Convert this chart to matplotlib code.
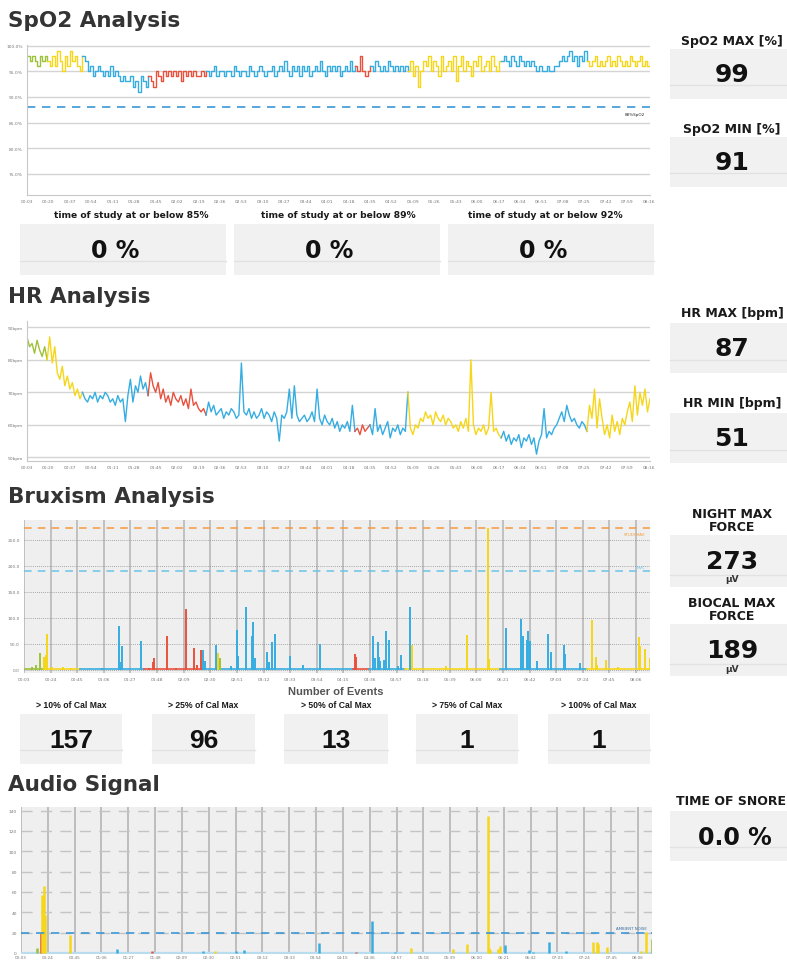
import numpy as np
import matplotlib
matplotlib.use("Agg")
import matplotlib.pyplot as plt
from matplotlib.patches import Rectangle
from matplotlib.lines import Line2D
from matplotlib.ticker import FuncFormatter
from matplotlib import font_manager

# ---------------------------------------------------------------- data
SAMPLE_MIN = 2          # minutes between SpO2 / HR samples
START_CLOCK = 3         # recording starts at 00:03

# sleep stage hypnogram: segment edges (minutes) and stage per segment
stage_edges = [0, 16, 44, 95, 141, 260, 272, 301, 376, 444, 494]
stage_codes = ["W", "L", "D", "R", "D", "R", "D", "L", "D", "L"]

spo2 = [
    98, 97, 98, 97, 96, 98, 97, 98, 97, 96,
    98, 96, 99, 97, 95, 98, 96, 99, 97, 98,
    96, 95, 98, 97, 95, 96, 94, 95, 96, 95,
    94, 95, 94, 96, 94, 95, 94, 93, 94, 93,
    93, 94, 92, 93, 91, 94, 93, 92, 94, 93,
    92, 95, 94, 93, 95, 94, 95, 94, 95, 94,
    95, 93, 95, 94, 95, 94, 95, 94, 94, 95,
    94, 95, 94, 95, 96, 94, 95, 95, 94, 95,
    95, 94, 96, 95, 94, 95, 95, 94, 96, 95,
    94, 95, 96, 95, 94, 95, 95, 96, 94, 95,
    96, 95, 97, 95, 94, 96, 95, 96, 94, 96,
    95, 96, 94, 95, 96, 95, 97, 95, 94, 96,
    95, 96, 95, 96, 94, 95, 96, 95, 97, 95,
    96, 95, 98, 95, 94, 95, 96, 95, 97, 96,
    95, 96, 95, 97, 96, 95, 96, 95, 96, 95,
    96, 95, 97, 94, 96, 92, 95, 97, 96, 98,
    95, 97, 96, 94, 98, 95, 96, 97, 95, 98,
    93, 96, 98, 95, 97, 96, 94, 97, 96, 98,
    95, 96, 97, 95, 98, 96, 95, 97, 97, 98,
    97, 96, 98, 97, 96, 98, 97, 96, 97, 96,
    97, 96, 95, 96, 95, 95, 96, 95, 95, 96,
    96, 97, 98, 97, 98, 99, 97, 98, 96, 98,
    97, 99, 97, 96, 97, 98, 96, 97, 96, 97,
    98, 96, 97, 96, 98, 97, 96, 97, 96, 98,
    97, 96, 97, 98, 96, 97, 96, 97,
]

heart_rate = [
    87, 84, 85, 82, 86, 83, 81, 84, 80, 87,
    79, 84, 76, 74, 78, 72, 75, 71, 73, 69,
    71, 68, 70, 68, 67, 69, 68, 70, 67, 69,
    68, 70, 69, 67, 68, 66, 69, 67, 68, 61,
    69, 74, 67, 72, 70, 75, 71, 73, 69, 76,
    72, 70, 73, 68, 71, 67, 69, 66, 70, 68,
    67, 69, 66, 68, 65, 71, 66, 67, 65, 64,
    65, 63, 67, 64, 66, 63, 64, 65, 62, 64,
    63, 65, 64, 62, 63, 79, 64, 63, 65, 62,
    64, 62, 63, 65, 62, 64, 63, 61, 64, 62,
    55, 63, 62, 64, 71, 62, 72, 63, 61, 62,
    63, 61, 62, 64, 61, 71, 62, 60, 63, 61,
    60, 62, 59, 61, 58, 60, 59, 61, 58, 66,
    58, 59, 57, 60, 58, 59, 60, 57, 65, 58,
    60, 57, 59, 61, 56, 59, 58, 60, 57, 59,
    58, 70, 59, 57, 60, 59, 62, 61, 64, 62,
    63, 60, 64, 62, 61, 63, 60, 62, 61, 59,
    60, 58, 61, 59, 62, 58, 80, 60, 57, 59,
    58, 60, 57, 59, 70, 58, 59, 57, 56, 58,
    55, 57, 54, 56, 55, 57, 53, 56, 55, 57,
    54, 56, 51, 55, 57, 65, 56, 58, 57, 59,
    60, 62, 64, 61, 66, 63, 61, 62, 60, 59,
    61, 60, 58, 66, 62, 71, 59, 68, 62, 57,
    60, 56, 63, 58, 61, 57, 62, 60, 64, 67,
    61, 72, 63, 70, 66, 71, 64, 68,
]

brux_t = [6, 9.5, 13, 16, 17, 18.5, 22, 31, 37, 61.5,
          75, 75.6, 77.3, 92.3, 98.3, 101.5, 102.8, 112.9, 120, 128.1,
          134.5, 136.6, 140, 141.5, 142.5, 151.9, 153, 155, 163.7, 167.7,
          168.7, 175.3, 179.6, 180.6, 182.2, 192, 193.3, 195.9, 197.8, 209.6,
          220.4, 233.6, 261.5, 262.2, 275.8, 276.9, 279, 279.8, 281, 284.2,
          285.8, 288.2, 294.8, 297.4, 304.5, 305.8, 333, 349.6, 366.5, 367.2,
          380, 392.4, 393.7, 397.1, 398.1, 399, 404.8, 413.5, 416, 426,
          427, 439, 448.5, 451.6, 452.5, 459.6, 469, 485.5, 486.3, 490,
          494]
brux_uv = [5, 10, 32, 25, 28, 68, 5, 5, 3, 4,
           84, 14, 45, 55, 3, 15, 23, 64, 3, 117,
           42, 10, 37, 37, 16, 48, 32, 22, 8, 77,
           27, 120, 65, 91, 22, 35, 15, 53, 68, 27,
           10, 50, 31, 25, 64, 22, 53, 25, 17, 19,
           74, 58, 8, 28, 120, 48, 8, 66, 273, 20,
           80, 97, 65, 57, 75, 55, 16, 68, 35, 47,
           30, 12, 95, 25, 10, 18, 5, 63, 45, 40,
           22]
brux_stage = ("WWW" + "LLLLLL" + "DDDDD" + "RRRRRRRRR" + "DDD" + "LW"
              + "DDDDDDDDDDDDDD" + "RR" + "DDDDDDDDDDD" + "LLLLL"
              + "DDDDDDDDDDDD" + "LLLLLLLLL")

audio_t = [12.8, 15.4, 16.2, 18, 18.8, 38.4, 75, 102.5, 142.5, 152,
           168, 174.4, 233, 262, 275, 293, 305, 337.9, 349, 365.8,
           366.6, 367.5, 373.7, 375, 379, 398, 401, 413, 426.7, 448,
           451, 452, 459, 485, 489.5, 494]
audio_db = [5, 20, 57, 66, 37, 18, 4, 2, 2, 2,
            2, 3, 10, 1, 31, 1, 5, 4, 9, 135,
            5, 3, 4, 7, 8, 3, 1, 11, 2, 11,
            11, 9, 6, 2, 21, 14]
audio_stage = "WRLLLL" + "DRDLDDDRDD" + "LLLLLLLL" + "DDDDD" + "LLLLLL" + "W"

SPO2_LIMIT = 88
NIGHT_MAX = 273
BIOCAL_MAX = 189
AMBIENT_NOISE = 20

spo2_stats = [("SpO2 MAX [%]", "99"), ("SpO2 MIN [%]", "91")]
hr_stats = [("HR MAX [bpm]", "87"), ("HR MIN [bpm]", "51")]
below_labels = ["time of study at or below 85%", "time of study at or below 89%",
                "time of study at or below 92%"]
below_values = ["0 %", "0 %", "0 %"]
event_labels = ["> 10% of Cal Max", "> 25% of Cal Max", "> 50% of Cal Max",
                "> 75% of Cal Max", "> 100% of Cal Max"]
event_counts = ["157", "96", "13", "1", "1"]
snore_time = "0.0 %"

STAGE_COLORS = {"W": "#9dc13b", "L": "#f6d619", "D": "#36ade1", "R": "#e8513c"}

# ---------------------------------------------------------------- fonts
_names = {f.name for f in font_manager.fontManager.ttflist}
NARROW = "Liberation Sans Narrow" if "Liberation Sans Narrow" in _names else "Liberation Sans"
BOLD = "DejaVu Sans"

# ---------------------------------------------------------------- layout
W, H = 787, 962
fig = plt.figure(figsize=(W / 100, H / 100), dpi=100)
fig.patch.set_facecolor("white")


def ax_px(x0, y0, x1, y1):
    return fig.add_axes([x0 / W, 1 - y1 / H, (x1 - x0) / W, (y1 - y0) / H])


def txt(x, y, s, **kw):
    kw.setdefault("ha", "center")
    kw.setdefault("va", "center")
    fig.text(x / W, 1 - y / H, s, **kw)


def panel(x0, y0, x1, y1, line_y):
    fig.patches.append(Rectangle((x0 / W, 1 - y1 / H), (x1 - x0) / W, (y1 - y0) / H,
                                 transform=fig.transFigure, facecolor="#f1f1f1",
                                 edgecolor="none", zorder=0))
    fig.lines.append(Line2D([x0 / W, x1 / W], [1 - line_y / H, 1 - line_y / H],
                            transform=fig.transFigure, color="#e2e2e2", lw=1))


def title(y, s):
    txt(8, y, s, ha="left", family=BOLD, fontweight="bold", fontsize=15.5, color="#343434")


def clock(t, _pos):
    m = int(round(t)) + START_CLOCK
    return f"{m // 60:02d}:{m % 60:02d}"


def style_time_axis(ax, step):
    ax.set_xlim(0, 494)
    ax.set_xticks(np.arange(0, 494, step))
    ax.xaxis.set_major_formatter(FuncFormatter(clock))
    ax.tick_params(length=0, labelsize=3.2, colors="#777777", pad=3)


def stage_series(ax, t, y, **kw):
    t = np.asarray(t, float)
    y = np.asarray(y, float)
    for a, b, code in zip(stage_edges[:-1], stage_edges[1:], stage_codes):
        i0 = np.searchsorted(t, a)
        i1 = min(np.searchsorted(t, b), len(t) - 1)
        ax.plot(t[i0:i1 + 1], y[i0:i1 + 1], color=STAGE_COLORS[code], **kw)


# ---------------------------------------------------------------- SpO2
title(21, "SpO2 Analysis")
t_spo2 = np.arange(len(spo2)) * SAMPLE_MIN
ax1 = ax_px(27, 46, 650, 196)
ax1.set_ylim(70.9, 100.1)
ax1.set_yticks([75, 80, 85, 90, 95, 100])
ax1.set_yticklabels([f"{v:.1f}%" for v in [75, 80, 85, 90, 95, 100]])
ax1.grid(axis="y", color="#d4d4d4", lw=1)
ax1.set_axisbelow(True)
for s in ["top", "right"]:
    ax1.spines[s].set_visible(False)
for s in ["left", "bottom"]:
    ax1.spines[s].set_color("#c8c8c8")
stage_series(ax1, t_spo2, spo2, lw=1.0, drawstyle="steps-post")
ax1.axhline(SPO2_LIMIT, color="#3b98d6", lw=1.2, dashes=(5, 4))
ax1.text(490, SPO2_LIMIT - 1.3, f"{SPO2_LIMIT}%SpO2", fontsize=3, ha="right", va="center",
         color="#222222")
style_time_axis(ax1, 17)

for i, (lab, val) in enumerate(spo2_stats):
    y0 = [50, 138][i]
    txt(732, y0 - 9, lab, family=BOLD, fontweight="bold", fontsize=9, color="#1a1a1a")
    panel(670, y0, 787, y0 + 50, y0 + 36)
    txt(732, y0 + 25, val, family=BOLD, fontweight="bold", fontsize=18, color="#111111")

box_x = [(20, 226), (234, 440), (448, 654)]
label_cx = [131, 338, 545]
for (x0, x1), cx, lab, val in zip(box_x, label_cx, below_labels, below_values):
    txt(cx, 215, lab, family=BOLD, fontweight="bold", fontsize=6.6, color="#1a1a1a")
    panel(x0, 225, x1, 276, 262)
    txt((x0 + x1) / 2 - 8, 251, val, family=BOLD, fontweight="bold", fontsize=17,
        color="#111111")

# ---------------------------------------------------------------- HR
title(297, "HR Analysis")
t_hr = np.arange(len(heart_rate)) * SAMPLE_MIN
ax2 = ax_px(27, 322, 650, 462)
ax2.set_ylim(48.9, 91.9)
ax2.set_yticks([50, 60, 70, 80, 90])
ax2.set_yticklabels([f"{v}bpm" for v in [50, 60, 70, 80, 90]])
ax2.grid(axis="y", color="#d4d4d4", lw=1)
ax2.set_axisbelow(True)
for s in ["top", "right"]:
    ax2.spines[s].set_visible(False)
for s in ["left", "bottom"]:
    ax2.spines[s].set_color("#c8c8c8")
stage_series(ax2, t_hr, heart_rate, lw=1.0)
style_time_axis(ax2, 17)

for i, (lab, val) in enumerate(hr_stats):
    y0 = [324, 414][i]
    txt(732, y0 - 10, lab, family=BOLD, fontweight="bold", fontsize=9, color="#1a1a1a")
    panel(670, y0, 787, y0 + 50, y0 + 37)
    txt(732, y0 + 25, val, family=BOLD, fontweight="bold", fontsize=18, color="#111111")

# ---------------------------------------------------------------- Bruxism
title(497, "Bruxism Analysis")
ax3 = ax_px(24, 521, 650, 674)
ax3.set_facecolor("#efefef")
ax3.set_ylim(-6.3, 288)
ax3.set_yticks([0, 50, 100, 150, 200, 250])
ax3.set_yticklabels([f"{v:.1f}" for v in [0, 50, 100, 150, 200, 250]])
for s in ax3.spines.values():
    s.set_visible(False)
style_time_axis(ax3, 21)
ax3.grid(axis="x", color="#b4b4b4", lw=1.1)
ax3.grid(axis="y", color="#8c8c8c", lw=0.6, ls=(0, (1, 1.5)))
ax3.set_axisbelow(True)
stage_series(ax3, np.array(stage_edges, float), np.full(len(stage_edges), 1.5), lw=1.2,
             drawstyle="steps-post")
ax3.vlines(brux_t, 0, brux_uv, colors=[STAGE_COLORS[c] for c in brux_stage], lw=1.4)
ax3.axhline(NIGHT_MAX, color="#f39b3f", lw=1.1, dashes=(5, 4))
ax3.axhline(BIOCAL_MAX, color="#6cc3e8", lw=1.1, dashes=(5, 4))
ax3.text(490, NIGHT_MAX - 11, "STUDYMAX", fontsize=2.8, ha="right", va="center",
         color="#f39b3f")
ax3.text(490, BIOCAL_MAX + 8, "MVC", fontsize=2.8, ha="right", va="center", color="#6cc3e8")

for i, lab in enumerate(["NIGHT MAX\nFORCE", "BIOCAL MAX\nFORCE"]):
    y0 = [536, 625][i]
    val = [NIGHT_MAX, BIOCAL_MAX][i]
    txt(732, y0 - 15, lab, family=BOLD, fontweight="bold", fontsize=9, color="#1a1a1a",
        linespacing=0.95)
    panel(670, y0, 787, y0 + 52, y0 + 40)
    txt(732, y0 + 26, str(val), family=BOLD, fontweight="bold", fontsize=18, color="#111111")
    txt(732, y0 + 44, "\u03bcV", family=BOLD, fontweight="bold", fontsize=6.5, color="#333333")

txt(336, 692, "Number of Events", family="Liberation Sans", fontweight="bold", fontsize=8,
    color="#555555")
event_boxes = [(20, 122), (152, 255), (284, 388), (416, 518), (548, 650)]
for (x0, x1), lab, val in zip(event_boxes, event_labels, event_counts):
    cx = (x0 + x1) / 2
    txt(cx, 706, lab, family=NARROW, fontweight="bold", fontsize=6.2, color="#1a1a1a")
    panel(x0, 715, x1, 765, 751)
    txt(cx, 741, val, family=NARROW, fontweight="bold", fontsize=19, color="#111111")

# ---------------------------------------------------------------- Audio
title(785, "Audio Signal")
ax4 = ax_px(21, 808, 652, 955)
ax4.set_facecolor("#efefef")
ax4.set_ylim(-1, 143.5)
ax4.set_yticks(np.arange(0, 141, 20))
for s in ax4.spines.values():
    s.set_visible(False)
style_time_axis(ax4, 21)
ax4.tick_params(axis="x", pad=1, labelsize=3.0)
ax4.grid(axis="x", color="#bdbdbd", lw=1.4)
ax4.grid(axis="y", color="#c4c4c4", lw=1, dashes=(8, 6))
ax4.set_axisbelow(True)
ax4.axhline(0, color="#b9dcee", lw=1.6)
ax4.vlines(audio_t, 0, audio_db, colors=[STAGE_COLORS[c] for c in audio_stage], lw=1.8)
ax4.axhline(AMBIENT_NOISE, color="#3b98d6", lw=1.2, dashes=(5, 4))
ax4.text(490, AMBIENT_NOISE + 5, "AMBIENT NOISE", fontsize=2.8, ha="right", va="center",
         color="#3b6fa0")

txt(676, 802, "TIME OF SNORE", ha="left", family=BOLD, fontweight="bold", fontsize=9,
    color="#1a1a1a")
panel(670, 812, 787, 862, 848)
txt(735, 838, snore_time, family=BOLD, fontweight="bold", fontsize=17, color="#111111")

fig.savefig("out.png", dpi=100)
